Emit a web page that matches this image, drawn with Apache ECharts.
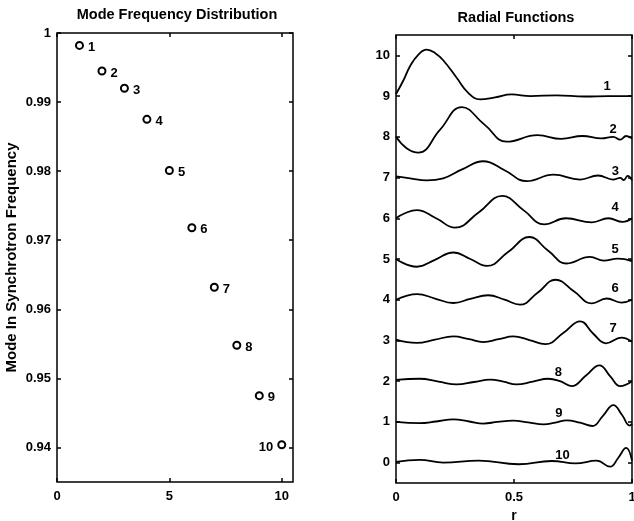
<!DOCTYPE html>
<html>
<head>
<meta charset="utf-8">
<script src="https://cdn.jsdelivr.net/npm/echarts@6/dist/echarts.min.js"></script>
<style>
html,body{margin:0;padding:0;background:#fff;}
#c{width:634px;height:521px;}
</style>
</head>
<body>
<div id="c"></div>
<script>
// ---- Left panel data ----
const modeNumbers = [1, 2, 3, 4, 5, 6, 7, 8, 9, 10];
const modeFrequency = [0.9982, 0.9945, 0.9920, 0.9875, 0.9801, 0.9718, 0.9632, 0.9548, 0.9475, 0.9404];
const leftYTicks = [0.94, 0.95, 0.96, 0.97, 0.98, 0.99, 1];
const leftXTicks = [0, 5, 10];

// ---- Right panel data (radial functions, offset by mode) ----
const c1r = [0, 0.03, 0.06, 0.095, 0.13, 0.165, 0.2, 0.257, 0.306, 0.356, 0.42, 0.49, 0.57, 0.68, 0.8, 0.9, 1.0];
const c1v = [9.05, 9.37, 9.74, 10.02, 10.14, 10.06, 9.88, 9.45, 9.08, 8.92, 8.97, 9.04, 9.0, 9.02, 8.99, 9.0, 9.0];
const c2r = [0, 0.045, 0.095, 0.186, 0.278, 0.375, 0.469, 0.6, 0.7, 0.79, 0.87, 0.92, 0.95, 0.975, 1.0];
const c2v = [8.0, 7.72, 7.61, 8.17, 8.73, 8.3, 7.88, 8.04, 7.95, 8.02, 7.96, 8.0, 7.93, 8.02, 7.96];
const c3r = [0, 0.06, 0.13, 0.2, 0.28, 0.37, 0.46, 0.554, 0.667, 0.78, 0.856, 0.92, 0.95, 0.965, 0.982, 1.0];
const c3v = [7.03, 6.98, 6.93, 6.98, 7.2, 7.4, 7.18, 6.91, 7.07, 6.95, 7.05, 6.95, 6.99, 6.94, 7.04, 6.93];
const c4r = [0, 0.04, 0.088, 0.17, 0.25, 0.35, 0.45, 0.54, 0.628, 0.72, 0.83, 0.9, 0.96, 1.0];
const c4v = [6.0, 6.13, 6.2, 6.0, 5.77, 6.14, 6.55, 6.2, 5.85, 6.0, 5.9, 6.0, 5.91, 6.0];
const c5r = [0, 0.088, 0.165, 0.243, 0.315, 0.385, 0.475, 0.565, 0.645, 0.723, 0.822, 0.88, 0.94, 1.0];
const c5v = [5.0, 4.81, 4.98, 5.16, 5.0, 4.83, 5.17, 5.54, 5.2, 4.89, 5.05, 4.96, 5.01, 4.95];
const c6r = [0, 0.09, 0.165, 0.243, 0.315, 0.39, 0.46, 0.525, 0.6, 0.676, 0.755, 0.83, 0.893, 0.955, 1.0];
const c6v = [4.0, 4.14, 4.03, 3.92, 4.02, 4.11, 4.0, 3.88, 4.17, 4.49, 4.2, 3.91, 4.03, 3.93, 4.0];
const c7r = [0, 0.088, 0.165, 0.243, 0.31, 0.37, 0.435, 0.497, 0.565, 0.633, 0.71, 0.78, 0.835, 0.89, 0.955, 1.0];
const c7v = [3.02, 2.94, 3.02, 3.1, 3.03, 2.96, 3.03, 3.1, 3.01, 2.91, 3.19, 3.47, 3.17, 2.93, 3.07, 2.97];
const c8r = [0, 0.1, 0.18, 0.257, 0.33, 0.4, 0.455, 0.51, 0.58, 0.645, 0.695, 0.744, 0.805, 0.862, 0.908, 0.95, 1.0];
const c8v = [2.03, 2.06, 1.99, 1.92, 1.98, 2.04, 1.99, 1.92, 1.99, 2.06, 2.0, 1.88, 2.14, 2.39, 2.12, 1.88, 2.0];
const c9r = [0, 0.1, 0.17, 0.243, 0.31, 0.37, 0.43, 0.496, 0.56, 0.625, 0.675, 0.723, 0.78, 0.832, 0.877, 0.921, 0.958, 0.99, 1.0];
const c9v = [1.0, 0.97, 1.01, 1.06, 1.01, 0.96, 1.0, 1.03, 0.99, 0.94, 0.98, 1.04, 0.98, 0.9, 1.15, 1.41, 1.17, 0.91, 0.95];
const c10r = [0, 0.1, 0.2, 0.35, 0.52, 0.66, 0.76, 0.85, 0.907, 0.942, 0.975, 1.0];
const c10v = [0.02, 0.07, 0.0, 0.05, -0.04, 0.04, -0.02, 0.05, -0.1, 0.12, 0.36, 0.05];

const curveLabels = ['1', '2', '3', '4', '5', '6', '7', '8', '9', '10'];
const curveLabelR = [0.895, 0.92, 0.93, 0.928, 0.928, 0.928, 0.92, 0.688, 0.69, 0.705];
const curveLabelV = [9.24, 8.17, 7.16, 6.26, 5.24, 4.27, 3.3, 2.22, 1.21, 0.18];

const rightYTicks = [0, 1, 2, 3, 4, 5, 6, 7, 8, 9, 10];
const rightXTicks = [0, 0.5, 1];

const curvesR = [c1r, c2r, c3r, c4r, c5r, c6r, c7r, c8r, c9r, c10r];
const curvesV = [c1v, c2v, c3v, c4v, c5v, c6v, c7v, c8v, c9v, c10v];

const FONT = 'Liberation Sans';
const tickFmt = v => String(+(+v).toFixed(2));
const textBase = { color: '#000', fontFamily: FONT, fontWeight: 'bold', fontSize: 13, textBorderWidth: 0, textShadowBlur: 0 };

function tick(vals) {
  return { show: true, inside: true, length: 4, customValues: vals, lineStyle: { color: '#000', width: 1.5 } };
}
function axis(opts, vals, withLabels, margin) {
  return Object.assign({
    type: 'value',
    axisLine: { show: false, onZero: false },
    splitLine: { show: false },
    axisTick: tick(vals),
    axisLabel: withLabels
      ? Object.assign({ show: true, margin: margin, customValues: vals, formatter: tickFmt }, textBase)
      : { show: false }
  }, opts);
}

const chart = echarts.init(document.getElementById('c'), null, { renderer: 'canvas' });

const series = [];
series.push({
  type: 'scatter',
  xAxisIndex: 0, yAxisIndex: 0,
  symbol: 'emptyCircle',
  symbolSize: 7,
  itemStyle: { color: '#000', borderColor: '#000', borderWidth: 1.5, opacity: 1 },
  label: Object.assign({ show: true, position: 'right', distance: 4, formatter: p => String(p.data.name) }, textBase),
  emphasis: { disabled: true },
  data: modeNumbers.map((m, i) => {
    const d = { name: m, value: [m, modeFrequency[i]] };
    d.label = (m === 10) ? { position: 'left', offset: [0, 3] } : { offset: [0, 2] };
    return d;
  }),
  silent: true
});

curvesR.forEach((rs, k) => {
  series.push({
    type: 'line',
    xAxisIndex: 2, yAxisIndex: 2,
    showSymbol: false,
    smooth: 0.45,
    lineStyle: { color: '#000', width: 1.8, opacity: 1 },
    emphasis: { disabled: true },
    data: rs.map((r, j) => [r, curvesV[k][j]]),
    silent: true
  });
});

series.push({
  type: 'scatter',
  xAxisIndex: 2, yAxisIndex: 2,
  symbolSize: 0,
  itemStyle: { color: '#000', opacity: 1 },
  label: Object.assign({ show: true, position: 'inside', formatter: p => p.data.name }, textBase),
  emphasis: { disabled: true },
  data: curveLabels.map((t, i) => ({ name: t, value: [curveLabelR[i], curveLabelV[i]] })),
  silent: true
});

const option = {
  backgroundColor: '#fff',
  animation: false,
  grid: [
    { left: 57, top: 33, width: 236, height: 449, show: true, borderColor: '#000', borderWidth: 1.5, containLabel: false, outerBoundsMode: 'none' },
    { left: 396, top: 35, width: 236, height: 448, show: true, borderColor: '#000', borderWidth: 1.5, containLabel: false, outerBoundsMode: 'none' }
  ],
  xAxis: [
    axis({ gridIndex: 0, position: 'bottom', min: 0, max: 10.5 }, leftXTicks, true, 8),
    axis({ gridIndex: 0, position: 'top', min: 0, max: 10.5 }, leftXTicks, false),
    axis({ gridIndex: 1, position: 'bottom', min: 0, max: 1,
      name: 'r', nameLocation: 'middle', nameGap: 24,
      nameTextStyle: { color: '#000', fontFamily: FONT, fontWeight: 'bold', fontSize: 14 } }, rightXTicks, true, 8),
    axis({ gridIndex: 1, position: 'top', min: 0, max: 1 }, rightXTicks, false)
  ],
  yAxis: [
    axis({ gridIndex: 0, position: 'left', min: 0.935, max: 1,
      name: 'Mode In Synchrotron Frequency', nameLocation: 'middle', nameRotate: 90, nameGap: 38,
      nameTextStyle: { color: '#000', fontFamily: FONT, fontWeight: 'bold', fontSize: 15 } }, leftYTicks, true, 6),
    axis({ gridIndex: 0, position: 'right', min: 0.935, max: 1 }, leftYTicks, false),
    axis({ gridIndex: 1, position: 'left', min: -0.5, max: 10.5 }, rightYTicks, true, 6),
    axis({ gridIndex: 1, position: 'right', min: -0.5, max: 10.5 }, rightYTicks, false)
  ],
  graphic: [
    { type: 'text', x: 177, y: 15, style: { text: 'Mode Frequency Distribution', fill: '#000', font: 'bold 14.5px "Liberation Sans"', textAlign: 'center', textVerticalAlign: 'middle' } },
    { type: 'text', x: 516, y: 18, style: { text: 'Radial Functions', fill: '#000', font: 'bold 14.5px "Liberation Sans"', textAlign: 'center', textVerticalAlign: 'middle' } }
  ],
  series: series
};
chart.setOption(option);
</script>
</body>
</html>
